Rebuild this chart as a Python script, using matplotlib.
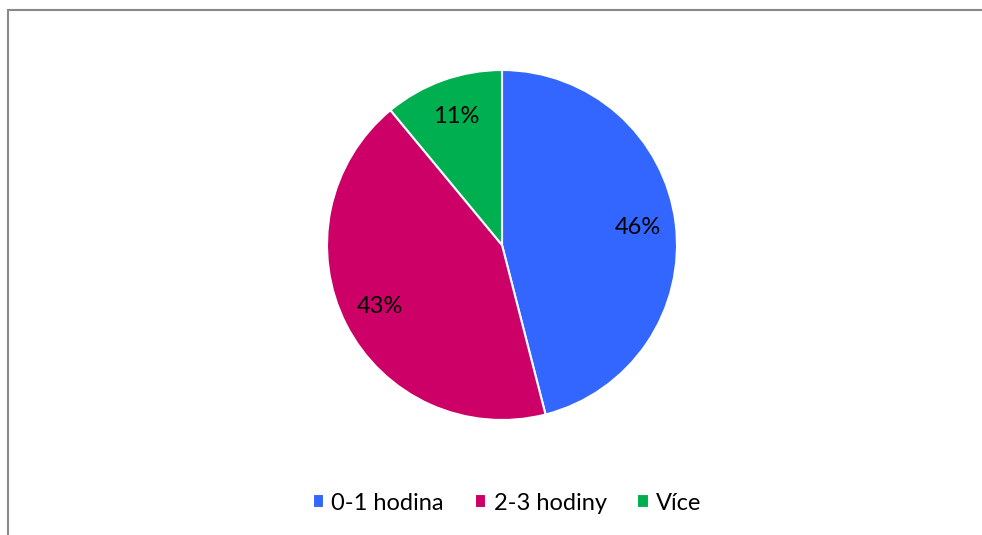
import matplotlib.pyplot as plt
from matplotlib.patches import Rectangle

labels = ['0-1 hodina', '2-3 hodiny', 'Více']
values = [46, 43, 11]
colors = ['#3366FF', '#CC0066', '#00B050']

plt.rcParams['font.family'] = ['Lato', 'DejaVu Sans']

W, H = 982, 535
fig = plt.figure(figsize=(W / 100, H / 100), dpi=100)

# chart border (only top and left are visible in the crop)
fig.patches.append(Rectangle((7.5 / W, -0.1), 1.2, 1.1 - 10 / H,
                             transform=fig.transFigure, fill=False,
                             edgecolor='#898989', linewidth=1.5))

cx, cy, r = 502, 245, 175
ax = fig.add_axes([(cx - r) / W, (H - cy - r) / H, 2 * r / W, 2 * r / H])
wedges, texts, autotexts = ax.pie(
    values, colors=colors, startangle=90, counterclock=False,
    autopct='%d%%', pctdistance=0.78,
    wedgeprops=dict(edgecolor='white', linewidth=1.5),
    textprops=dict(fontsize=17, color='black'))
ax.set_xlim(-1, 1)
ax.set_ylim(-1, 1)
ax.set_aspect('equal')

fig.legend(wedges, labels, loc='center', ncol=3,
           bbox_to_anchor=(507 / W, 1 - 503 / H), frameon=False,
           fontsize=17, handlelength=0.5, handleheight=0.5,
           handletextpad=0.3, columnspacing=1.3)

fig.savefig('out.png', dpi=100)
